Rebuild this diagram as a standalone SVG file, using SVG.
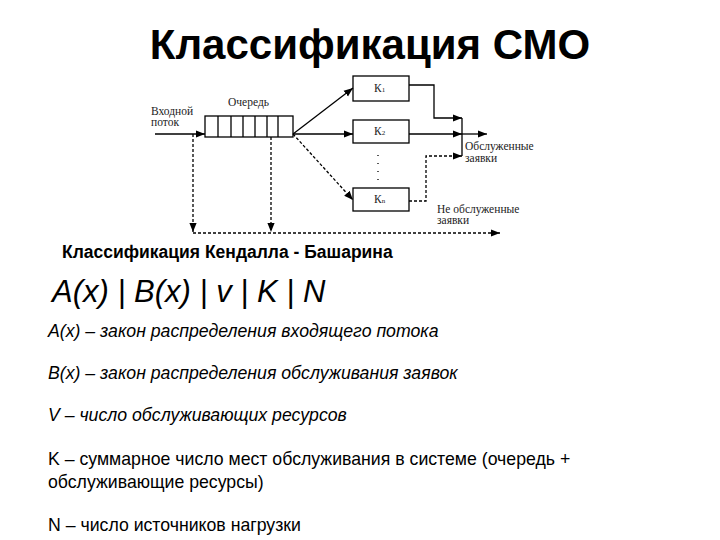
<svg xmlns="http://www.w3.org/2000/svg" width="720" height="540" viewBox="0 0 720 540">
<style>
.l{stroke:#000;stroke-width:1.3;fill:none}
.d{stroke:#000;stroke-width:1.3;fill:none;stroke-dasharray:3,2}
.s{font-family:"Liberation Serif",serif;font-size:11.5px;fill:#222}
.t{font-family:"Liberation Sans",Arial,sans-serif;fill:#000}
</style>
<defs><marker id="a" viewBox="0 0 10 10" refX="10" refY="5" markerWidth="7" markerHeight="7" orient="auto"><path d="M0,1L10,5L0,9z" fill="#000"/></marker></defs>
<rect width="720" height="540" fill="#fff"/>
<text class="t" x="370" y="59" font-size="42" font-weight="bold" text-anchor="middle">Классификация СМО</text>
<g id="queue"><rect class="l" x="205" y="116" width="88" height="21"/>
<path class="l" d="M218,116V137M231,116V137M243,116V137M255,116V137M267,116V137M278,116V137"/>
<text class="s" x="228" y="106">Очередь</text></g>
<g id="k1"><rect class="l" x="353" y="76" width="56" height="25"/><text class="s" x="374" y="92">К<tspan font-size="7">1</tspan></text></g>
<g id="k2"><rect class="l" x="353" y="120" width="56" height="23"/><text class="s" x="374" y="135">К<tspan font-size="7">2</tspan></text></g>
<g id="kn"><rect class="l" x="353" y="188" width="56" height="23"/><text class="s" x="374" y="203">К<tspan font-size="7">n</tspan></text></g>
<g id="labels">
<text class="s" x="151" y="115">Входной</text><text class="s" x="151" y="126">поток</text>
<text class="s" x="465" y="150">Обслуженные</text><text class="s" x="465" y="162">заявки</text>
<text class="s" x="437" y="213">Не  обслуженные</text><text class="s" x="437" y="224">заявки</text>
<path d="M378,155V182" stroke="#000" stroke-width="1.3" stroke-dasharray="1,7"/>
</g>
<g id="connectors">
<path class="l" d="M155,134H205" marker-end="url(#a)"/>
<path class="l" d="M293,134L353,88" marker-end="url(#a)"/>
<path class="l" d="M293,134H353" marker-end="url(#a)"/>
<path class="d" d="M293,134L353,200" marker-end="url(#a)"/>
<path class="l" d="M409,85H434V118H462" marker-end="url(#a)"/>
<path class="l" d="M409,134H462" marker-end="url(#a)"/>
<path class="l" d="M462,134H487" marker-end="url(#a)"/>
<path class="l" d="M462,118V156"/>
<path class="d" d="M409,201H426V156H462" marker-end="url(#a)"/>
<path class="d" d="M193,134V232" marker-end="url(#a)"/>
<path class="d" d="M271,137V232" marker-end="url(#a)"/>
<path class="d" d="M193,233H500" marker-end="url(#a)"/>
</g>
<text class="t" x="62" y="258" font-size="17.5" font-weight="bold">Классификация Кендалла - Башарина</text>
<text class="t" x="52" y="302" font-size="31" font-style="italic">A(x) | B(x) | v | K | N</text>
<g class="t" font-size="17.7">
<text x="48" y="337" font-style="italic">А(x) – закон распределения входящего потока</text>
<text x="48" y="379" font-style="italic">B(x) – закон распределения обслуживания заявок</text>
<text x="48" y="421" font-style="italic">V – число обслуживающих ресурсов</text>
<text x="48" y="465">K – суммарное число мест обслуживания в системе (очередь +</text>
<text x="48" y="488">обслуживающие ресурсы)</text>
<text x="48" y="531">N – число источников нагрузки</text>
</g>
</svg>
